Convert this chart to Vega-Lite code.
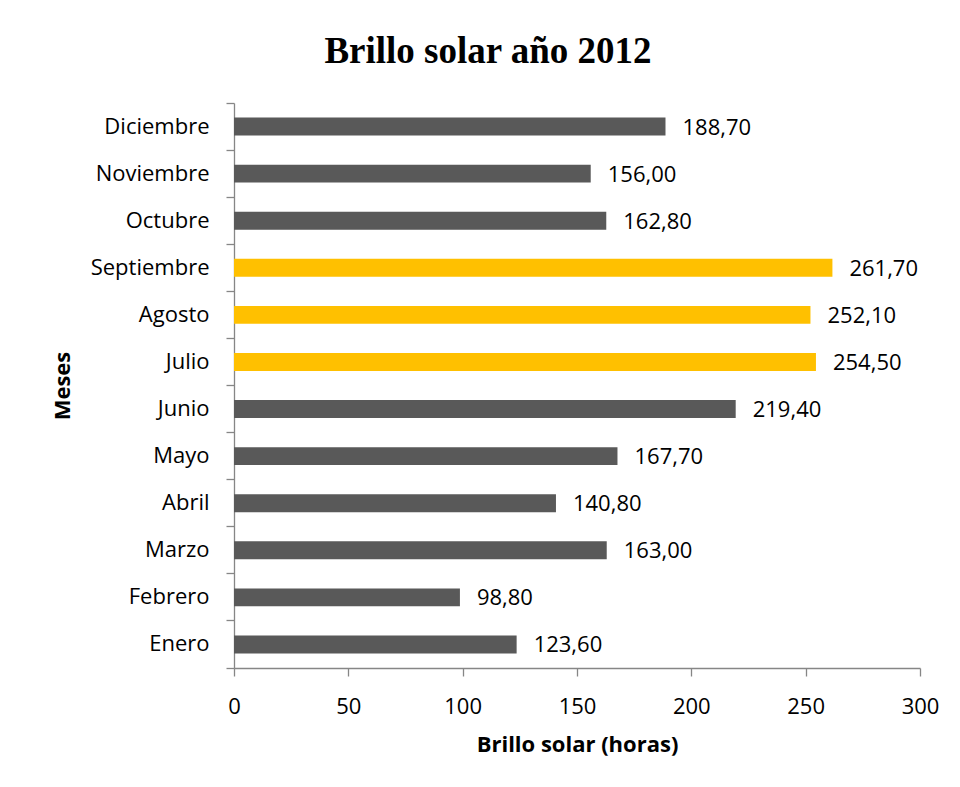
{
  "$schema": "https://vega.github.io/schema/vega-lite/v6.json",
  "width": 686,
  "height": 565,
  "autosize": {"type": "none"},
  "padding": {"left": 234, "top": 103, "right": 40, "bottom": 119},
  "background": "white",
  "title": {
    "text": "Brillo solar año 2012",
    "font": "Liberation Serif",
    "fontSize": 37,
    "fontWeight": "bold",
    "color": "black",
    "anchor": "middle",
    "frame": "group",
    "dx": -89,
    "offset": 21
  },
  "data": {
    "values": [
      {"mes": "Enero", "horas": 123.6, "grupo": "normal"},
      {"mes": "Febrero", "horas": 98.8, "grupo": "normal"},
      {"mes": "Marzo", "horas": 163.0, "grupo": "normal"},
      {"mes": "Abril", "horas": 140.8, "grupo": "normal"},
      {"mes": "Mayo", "horas": 167.7, "grupo": "normal"},
      {"mes": "Junio", "horas": 219.4, "grupo": "normal"},
      {"mes": "Julio", "horas": 254.5, "grupo": "alto"},
      {"mes": "Agosto", "horas": 252.1, "grupo": "alto"},
      {"mes": "Septiembre", "horas": 261.7, "grupo": "alto"},
      {"mes": "Octubre", "horas": 162.8, "grupo": "normal"},
      {"mes": "Noviembre", "horas": 156.0, "grupo": "normal"},
      {"mes": "Diciembre", "horas": 188.7, "grupo": "normal"}
    ]
  },
  "encoding": {
    "y": {
      "field": "mes",
      "type": "nominal",
      "sort": ["Diciembre", "Noviembre", "Octubre", "Septiembre", "Agosto", "Julio", "Junio", "Mayo", "Abril", "Marzo", "Febrero", "Enero"],
      "scale": {"paddingInner": 0, "paddingOuter": 0},
      "axis": {
        "title": "Meses",
        "bandPosition": 1,
        "tickExtra": true,
        "tickSize": 8,
        "labelPadding": 17,
        "titlePadding": 16,
        "labelFont": "Open Sans",
        "labelFontSize": 22,
        "labelColor": "black",
        "titleFont": "Open Sans",
        "titleFontSize": 22,
        "titleFontWeight": "bold",
        "titleColor": "black",
        "domainColor": "#868686",
        "tickColor": "#868686",
        "domainWidth": 1.3,
        "tickWidth": 1.3
      }
    },
    "x": {
      "field": "horas",
      "type": "quantitative",
      "scale": {"domain": [0, 300], "nice": false},
      "axis": {
        "title": "Brillo solar (horas)",
        "values": [0, 50, 100, 150, 200, 250, 300],
        "format": "d",
        "grid": false,
        "tickSize": 8,
        "labelPadding": 20,
        "titlePadding": 17,
        "labelFont": "Open Sans",
        "labelFontSize": 22,
        "labelColor": "black",
        "labelFlush": false,
        "titleFont": "Open Sans",
        "titleFontSize": 22,
        "titleFontWeight": "bold",
        "titleColor": "black",
        "domainColor": "#868686",
        "tickColor": "#868686",
        "domainWidth": 1.3,
        "tickWidth": 1.3
      }
    }
  },
  "layer": [
    {
      "mark": {"type": "bar", "height": {"band": 0.38}},
      "encoding": {
        "color": {
          "field": "grupo",
          "type": "nominal",
          "scale": {"domain": ["normal", "alto"], "range": ["#595959", "#FFC000"]},
          "legend": null
        }
      }
    },
    {
      "mark": {"type": "text", "align": "left", "baseline": "middle", "dx": 17, "dy": 1, "font": "Open Sans", "fontSize": 22, "color": "black"},
      "encoding": {
        "text": {"field": "horas", "type": "quantitative", "format": ".2f"}
      }
    }
  ],
  "config": {
    "view": {"stroke": null},
    "locale": {"number": {"decimal": ",", "thousands": ".", "grouping": [3], "currency": ["", " €"]}}
  }
}
